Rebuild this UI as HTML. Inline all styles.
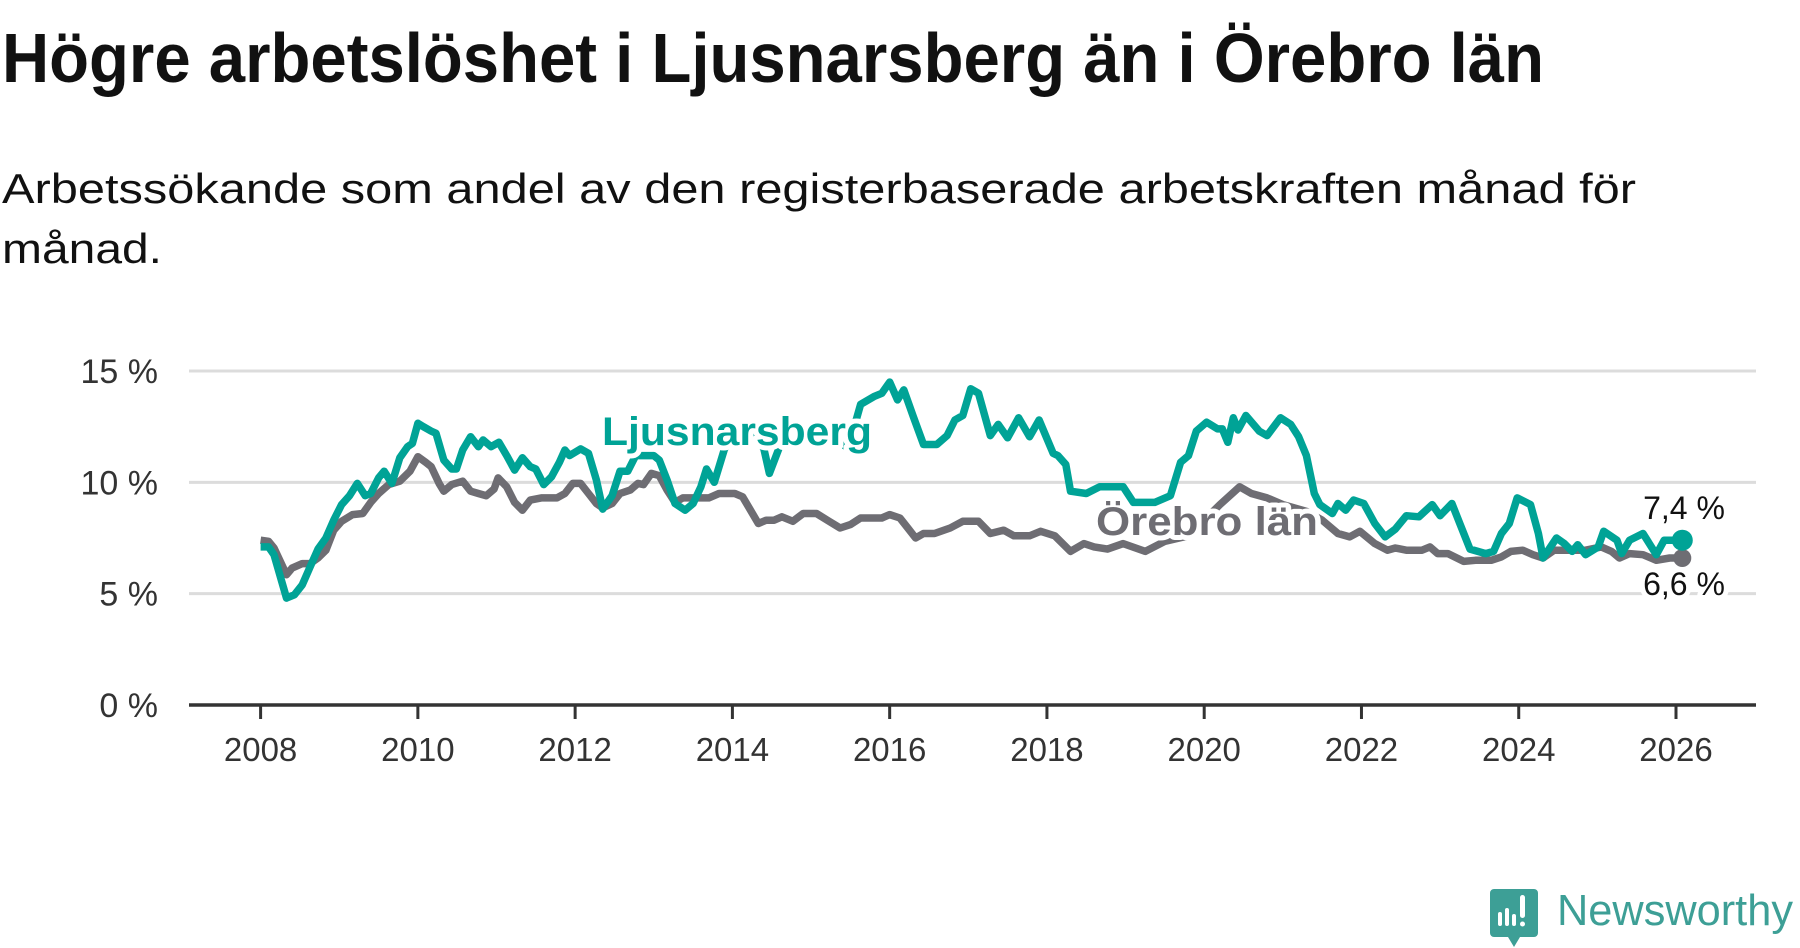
<!DOCTYPE html>
<html><head><meta charset="utf-8">
<style>
html,body{margin:0;padding:0;background:#fff;}
svg{display:block;font-family:"Liberation Sans","DejaVu Sans",sans-serif;}
</style></head>
<body>
<svg id="chart" width="1800" height="948" viewBox="0 0 1800 948" xmlns="http://www.w3.org/2000/svg">
  <text x="2" y="82" font-size="70" font-weight="bold" fill="#111" textLength="1542" lengthAdjust="spacingAndGlyphs">Högre arbetslöshet i Ljusnarsberg än i Örebro län</text>
  <text x="2" y="203" font-size="42" fill="#111" textLength="1634" lengthAdjust="spacingAndGlyphs">Arbetssökande som andel av den registerbaserade arbetskraften månad för</text>
  <text x="2" y="263" font-size="42" fill="#111" textLength="160" lengthAdjust="spacingAndGlyphs">månad.</text>
  <g id="grid"></g>
  <g id="yticks"></g>
  <g id="xaxis"></g>
  <g id="series"></g>
  <g id="labels"></g>
  <g>
    <path d="M1494 889 h40 a4 4 0 0 1 4 4 v40 a4 4 0 0 1 -4 4 h-14 l-6 10 l-6 -10 h-14 a4 4 0 0 1 -4 -4 v-40 a4 4 0 0 1 4 -4z" fill="#3d9f96"/>
    <rect x="1498" y="912" width="4" height="14" rx="2" fill="#fff"/>
    <rect x="1505" y="908" width="4" height="18" rx="2" fill="#fff"/>
    <rect x="1512" y="914" width="4" height="12" rx="2" fill="#fff"/>
    <rect x="1520" y="895" width="5" height="23" rx="2.5" fill="#fff"/>
    <circle cx="1522.5" cy="924" r="2.5" fill="#fff"/>
    <text x="1557" y="925" font-size="44" fill="#3d9f96" textLength="236" lengthAdjust="spacingAndGlyphs">Newsworthy</text>
  </g>
</svg>
<script>
const yTicks = [0, 5, 10, 15];
const yTickLabels = ["0 %", "5 %", "10 %", "15 %"];
const xTicks = [2008, 2010, 2012, 2014, 2016, 2018, 2020, 2022, 2024, 2026];
const xTickLabels = ["2008","2010","2012","2014","2016","2018","2020","2022","2024","2026"];

const ljDates = [2008.0,2008.1,2008.17,2008.33,2008.43,2008.53,2008.63,2008.73,2008.83,2008.93,2009.03,2009.13,2009.23,2009.33,2009.4,2009.5,2009.57,2009.67,2009.77,2009.87,2009.93,2010.0,2010.07,2010.17,2010.23,2010.33,2010.43,2010.49,2010.57,2010.67,2010.77,2010.83,2010.93,2011.03,2011.13,2011.23,2011.33,2011.43,2011.5,2011.6,2011.7,2011.8,2011.87,2011.93,2012.07,2012.17,2012.27,2012.35,2012.47,2012.57,2012.67,2012.77,2012.87,2013.0,2013.07,2013.17,2013.27,2013.4,2013.5,2013.6,2013.67,2013.77,2013.9,2014.0,2014.15,2014.3,2014.4,2014.47,2014.6,2014.8,2015.0,2015.2,2015.35,2015.45,2015.55,2015.63,2015.8,2015.9,2016.0,2016.1,2016.18,2016.3,2016.43,2016.6,2016.73,2016.83,2016.93,2017.03,2017.13,2017.28,2017.38,2017.5,2017.64,2017.78,2017.9,2018.08,2018.14,2018.24,2018.3,2018.5,2018.67,2018.97,2019.1,2019.37,2019.57,2019.7,2019.8,2019.9,2020.03,2020.17,2020.23,2020.3,2020.37,2020.43,2020.53,2020.7,2020.8,2020.97,2021.1,2021.2,2021.3,2021.4,2021.47,2021.63,2021.7,2021.8,2021.9,2022.03,2022.17,2022.3,2022.43,2022.57,2022.73,2022.9,2023.0,2023.15,2023.25,2023.38,2023.58,2023.68,2023.78,2023.88,2023.98,2024.15,2024.25,2024.31,2024.48,2024.58,2024.68,2024.75,2024.85,2025.01,2025.08,2025.25,2025.31,2025.41,2025.58,2025.75,2025.85,2025.95,2026.08];
const ljValues = [7.1,7.1,6.75,4.8,4.95,5.4,6.2,7.0,7.5,8.3,9.0,9.4,9.95,9.4,9.5,10.2,10.5,9.95,11.1,11.6,11.75,12.65,12.5,12.3,12.2,11.0,10.6,10.6,11.45,12.05,11.6,11.9,11.6,11.8,11.2,10.55,11.1,10.7,10.6,9.9,10.25,10.9,11.45,11.2,11.5,11.3,10.1,8.8,9.4,10.5,10.5,11.2,11.2,11.2,11.0,10.1,9.05,8.75,9.05,9.8,10.6,10.0,11.5,12.0,12.3,12.1,11.5,10.4,11.6,12.2,12.5,12.2,11.8,11.6,12.5,13.5,13.85,14.0,14.5,13.7,14.15,12.95,11.7,11.7,12.1,12.8,13.0,14.2,14.0,12.1,12.6,12.0,12.9,12.05,12.8,11.3,11.2,10.8,9.6,9.5,9.8,9.8,9.1,9.1,9.4,10.9,11.2,12.3,12.7,12.4,12.4,11.8,12.9,12.35,13.0,12.3,12.1,12.9,12.6,12.05,11.2,9.5,9.0,8.6,9.05,8.75,9.2,9.05,8.15,7.55,7.9,8.5,8.45,9.0,8.5,9.05,8.15,7.0,6.8,6.9,7.7,8.15,9.3,9.0,7.7,6.6,7.5,7.25,6.9,7.2,6.75,7.1,7.8,7.4,6.8,7.4,7.7,6.75,7.4,7.4,7.4];

const orDates = [2008.0,2008.1,2008.17,2008.33,2008.4,2008.53,2008.63,2008.73,2008.83,2008.93,2009.03,2009.17,2009.3,2009.4,2009.5,2009.63,2009.77,2009.9,2010.0,2010.1,2010.17,2010.27,2010.33,2010.43,2010.57,2010.67,2010.77,2010.87,2010.97,2011.02,2011.13,2011.23,2011.33,2011.43,2011.57,2011.77,2011.87,2011.97,2012.07,2012.17,2012.27,2012.35,2012.47,2012.57,2012.7,2012.8,2012.87,2012.97,2013.07,2013.17,2013.27,2013.37,2013.57,2013.7,2013.83,2014.03,2014.13,2014.23,2014.33,2014.43,2014.53,2014.63,2014.77,2014.9,2015.07,2015.23,2015.37,2015.5,2015.63,2015.9,2016.0,2016.13,2016.23,2016.33,2016.43,2016.57,2016.77,2016.93,2017.13,2017.28,2017.45,2017.58,2017.78,2017.92,2018.1,2018.3,2018.47,2018.6,2018.77,2018.97,2019.25,2019.5,2019.8,2020.0,2020.2,2020.45,2020.6,2020.8,2021.0,2021.3,2021.5,2021.7,2021.85,2021.98,2022.17,2022.33,2022.43,2022.57,2022.77,2022.87,2022.97,2023.1,2023.3,2023.45,2023.65,2023.78,2023.9,2024.05,2024.18,2024.31,2024.45,2024.65,2024.85,2025.05,2025.18,2025.28,2025.41,2025.58,2025.75,2025.92,2026.08];
const orValues = [7.4,7.35,7.05,5.85,6.15,6.35,6.35,6.6,6.95,7.85,8.25,8.55,8.6,9.1,9.5,9.9,10.05,10.5,11.15,10.9,10.7,9.95,9.6,9.9,10.05,9.6,9.5,9.4,9.7,10.2,9.8,9.1,8.75,9.2,9.3,9.3,9.5,9.95,9.95,9.5,9.05,8.85,9.05,9.5,9.65,9.95,9.9,10.4,10.3,9.65,9.1,9.3,9.3,9.3,9.5,9.5,9.35,8.75,8.15,8.3,8.3,8.45,8.25,8.6,8.6,8.25,7.95,8.1,8.4,8.4,8.55,8.4,7.95,7.5,7.7,7.7,7.95,8.25,8.25,7.7,7.85,7.6,7.6,7.8,7.6,6.9,7.25,7.1,7.0,7.25,6.9,7.35,7.6,8.3,9.0,9.8,9.5,9.3,9.0,8.7,8.3,7.7,7.55,7.8,7.25,6.95,7.05,6.95,6.95,7.1,6.8,6.8,6.45,6.5,6.5,6.65,6.9,6.95,6.75,6.6,6.95,6.95,6.95,7.1,6.9,6.6,6.8,6.75,6.5,6.6,6.6];

const endLabels = ["7,4 %", "6,6 %"];

const NS = "http://www.w3.org/2000/svg";
const X0 = 2008, X1 = 2026, PX0 = 260.6, PX1 = 1676;
const PY0 = 705, PY15 = 371;
function xScale(t){ return PX0 + (t - X0) * (PX1 - PX0) / (X1 - X0); }
function yScale(v){ return PY0 - v * (PY0 - PY15) / 15; }
function mk(tag, attrs, parent){ const e = document.createElementNS(NS, tag); for (const k in attrs) e.setAttribute(k, attrs[k]); parent.appendChild(e); return e; }

const grid = document.getElementById('grid');
const yt = document.getElementById('yticks');
yTicks.forEach((v, i) => {
  if (v > 0) {
    const l = mk('line', {x1:189, x2:1756, y1:yScale(v), y2:yScale(v), stroke:'#dcdcdc', 'stroke-width':3}, grid);
    
    
  }
  const t = mk('text', {x:158, y:yScale(v)+12, 'font-size':34, fill:'#333', 'text-anchor':'end'}, yt);
  t.textContent = yTickLabels[i];
  
  
});

const xa = document.getElementById('xaxis');
const ax = mk('line', {x1:189, x2:1756, y1:705, y2:705, stroke:'#333', 'stroke-width':3.5}, xa);


xTicks.forEach((v, i) => {
  const tk = mk('line', {x1:xScale(v), x2:xScale(v), y1:705, y2:719, stroke:'#333', 'stroke-width':3}, xa);
  
  
  const t = mk('text', {x:xScale(v), y:761, 'font-size':33, fill:'#333', 'text-anchor':'middle'}, xa);
  t.textContent = xTickLabels[i];
  
  
});

const ser = document.getElementById('series');
function pts(d, v){ return d.map((t, i) => xScale(t).toFixed(1) + ',' + yScale(v[i]).toFixed(1)).join(' '); }
const orLine = mk('polyline', {points:pts(orDates, orValues), fill:'none', stroke:'#6e6d73', 'stroke-width':7.5, 'stroke-linejoin':'round'}, ser);


const ljLine = mk('polyline', {points:pts(ljDates, ljValues), fill:'none', stroke:'#00a396', 'stroke-width':7.5, 'stroke-linejoin':'round'}, ser);


const orDot = mk('circle', {cx:xScale(orDates[orDates.length-1]), cy:yScale(orValues[orValues.length-1]), r:9, fill:'#6e6d73'}, ser);


const ljDot = mk('circle', {cx:xScale(ljDates[ljDates.length-1]), cy:yScale(ljValues[ljValues.length-1]), r:10.5, fill:'#00a396'}, ser);



const lab = document.getElementById('labels');
function halo(txt, attrs, name){
  const t = mk('text', Object.assign({stroke:'#fff', 'stroke-width':10, 'paint-order':'stroke', 'stroke-linejoin':'round'}, attrs), lab);
  t.textContent = txt;
  
  
}
halo('Ljusnarsberg', {x:737, y:445, 'font-size':40, 'font-weight':'bold', fill:'#00a396', 'text-anchor':'middle', textLength:270, lengthAdjust:'spacingAndGlyphs'}, 'ljusnarsberg-label');
halo('Örebro län', {x:1207, y:535, 'font-size':40, 'font-weight':'bold', fill:'#6e6d73', 'text-anchor':'middle', textLength:222, lengthAdjust:'spacingAndGlyphs'}, 'orebro-lan-label');
halo(endLabels[0], {x:1684, y:519, 'font-size':32, fill:'#111', 'text-anchor':'middle'}, 'ljusnarsberg-end-value');
halo(endLabels[1], {x:1684, y:595, 'font-size':32, fill:'#111', 'text-anchor':'middle'}, 'orebro-end-value');
</script>
</body></html>
